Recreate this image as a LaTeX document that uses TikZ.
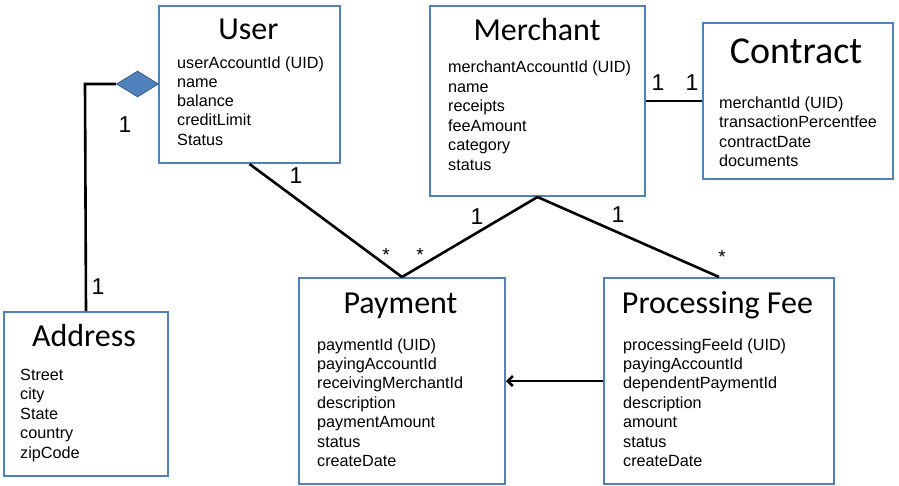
\documentclass[tikz,border=0pt]{standalone}
\usepackage{fontspec}
\setmainfont{Liberation Sans}
\newfontfamily\titlefont{Carlito}
\usetikzlibrary{arrows.meta,shapes.geometric}
\definecolor{boxblue}{HTML}{4F81BD}
\definecolor{diablue}{HTML}{385D8A}
\begin{document}
\begin{tikzpicture}[x=1pt,y=-1pt,
  umlbox/.style={draw=boxblue, line width=2pt, anchor=north west, inner sep=0pt},
  ttl/.style={font=\titlefont\fontsize{32}{38}\selectfont, anchor=base, inner sep=0pt},
  attr/.style={font=\fontsize{16.2}{19}\selectfont, anchor=base west, inner sep=0pt},
  lbl/.style={font=\fontsize{23}{27}\selectfont, inner sep=0pt},
  star/.style={font=\fontsize{19}{22}\selectfont, inner sep=0pt},
  conn/.style={line width=2.6pt, draw=black}]

\useasboundingbox (0,0) rectangle (899,485);

% boxes
\node[umlbox, minimum width=181pt, minimum height=157pt] (user) at (158,5) {};
\node[umlbox, minimum width=215pt, minimum height=190pt] (merchant) at (429,5) {};
\node[umlbox, minimum width=190pt, minimum height=156pt] (contract) at (702,22) {};
\node[umlbox, minimum width=164pt, minimum height=164pt] (address) at (3,311) {};
\node[umlbox, minimum width=206pt, minimum height=206pt] (payment) at (298,277) {};
\node[umlbox, minimum width=230pt, minimum height=206pt] (procfee) at (603,277) {};

% titles
\node[ttl] (userT) at (248.5,39.5) {User};
\node[ttl] (merchantT) at (537,40.5) {Merchant};
\node[ttl, font=\titlefont\fontsize{38}{44}\selectfont] (contractT) at (796,63) {Contract};
\node[ttl] (addressT) at (84,346) {Address};
\node[ttl] (paymentT) at (400.5,313) {Payment};
\node[ttl] (procfeeT) at (717.5,313) {Processing Fee};

% attributes
\foreach \t [count=\i] in {userAccountId (UID),name,balance,creditLimit,Status}
  \node[attr, name=userA\i] at (177,{68+19.3*(\i-1)}) {\t};
\foreach \t [count=\i] in {merchantAccountId (UID),name,receipts,feeAmount,category,status}
  \node[attr, name=merchantA\i] at (448,{72.5+19.6*(\i-1)}) {\t};
\foreach \t [count=\i] in {merchantId (UID),transactionPercentfee,contractDate,documents}
  \node[attr, name=contractA\i] at (719,{108+19.5*(\i-1)}) {\t};
\foreach \t [count=\i] in {Street,city,State,country,zipCode}
  \node[attr, name=addressA\i] at (20,{380+19.5*(\i-1)}) {\t};
\foreach \t [count=\i] in {paymentId (UID),payingAccountId,receivingMerchantId,description,paymentAmount,status,createDate}
  \node[attr, name=paymentA\i] at (317,{350+19.4*(\i-1)}) {\t};
\foreach \t [count=\i] in {processingFeeId (UID),payingAccountId,dependentPaymentId,description,amount,status,createDate}
  \node[attr, name=procfeeA\i] at (623,{350+19.4*(\i-1)}) {\t};

% connectors
\node[diamond, fill=boxblue, draw=diablue, line width=0.8pt, minimum width=42pt, minimum height=26pt, inner sep=0pt] (dia) at (137.5,84) {};
\coordinate (acorner) at (85,84);
\draw[conn] (dia.west) -- (acorner) -- (address.north);
\draw[conn] (user.south) -- (payment.north);
\draw[conn] (merchant.south) -- (payment.north);
\draw[conn] (merchant.south) -- (procfee.north);
\draw[conn] (merchant.east) -- (contract.west);
\draw[conn, -{Straight Barb[length=5pt,width=10pt]}] (procfee.west) -- (payment.east);

% multiplicities
\node[lbl] (m1) at (125,125) {1};
\node[lbl] (m2) at (98,287) {1};
\node[lbl] (m3) at (296,176) {1};
\node[star] (m4) at (386,255) {*};
\node[star] (m5) at (420,255) {*};
\node[lbl] (m6) at (477,217) {1};
\node[lbl] (m7) at (618,215) {1};
\node[star] (m8) at (722,257) {*};
\node[lbl] (m9) at (658,83) {1};
\node[lbl] (m10) at (692,83) {1};
\end{tikzpicture}
\end{document}
